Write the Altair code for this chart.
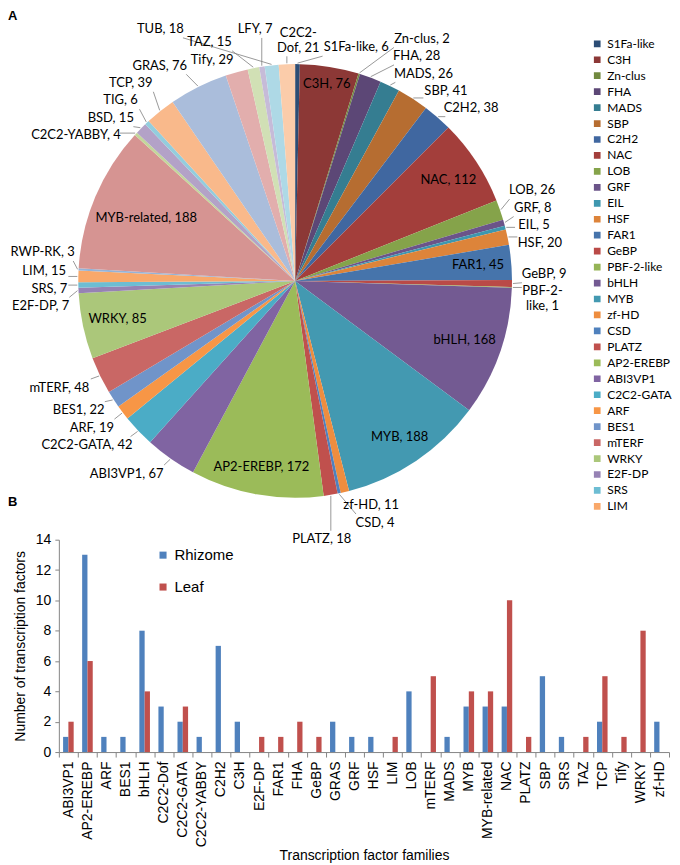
import math
import numpy as np
import pandas as pd
import altair as alt

# ---------------- Panel A data (pie) ----------------
families = ["S1Fa-like", "C3H", "Zn-clus", "FHA", "MADS", "SBP", "C2H2", "NAC", "LOB", "GRF",
            "EIL", "HSF", "FAR1", "GeBP", "PBF-2-like", "bHLH", "MYB", "zf-HD", "CSD", "PLATZ",
            "AP2-EREBP", "ABI3VP1", "C2C2-GATA", "ARF", "BES1", "mTERF", "WRKY", "E2F-DP", "SRS", "LIM",
            "RWP-RK", "MYB-related", "C2C2-YABBY", "BSD", "TIG", "TCP", "GRAS", "Tify", "TAZ", "LFY",
            "TUB", "C2C2-Dof"]
counts = [6, 76, 2, 28, 26, 41, 38, 112, 26, 8,
          5, 20, 45, 9, 1, 168, 188, 11, 4, 18,
          172, 67, 42, 19, 22, 48, 85, 7, 7, 15,
          3, 188, 4, 15, 6, 39, 76, 29, 15, 7,
          18, 21]
pie_colors = ["#2C4D75", "#8C3836", "#71893F", "#5C4776", "#357D91", "#B66D31", "#4067A0", "#A33E3B", "#85A34A", "#6B5489",
              "#3E97AF", "#DD843A", "#4674AB", "#BA4A47", "#95B456", "#735A92", "#4399B1", "#EE8D3F", "#4F81BD", "#C0504D",
              "#9BBB59", "#8064A2", "#4BACC6", "#F79646", "#7094C9", "#C96765", "#ABC77A", "#9682B4", "#6DBDD3", "#F9A86A",
              "#95B3D7", "#D69492", "#C3D69B", "#B3A2C7", "#93CDDD", "#F9B98B", "#AABDDB", "#E2AEAD", "#D1E0B5", "#C6BBD8",
              "#AED9E6", "#FBCCAA"]
inside_labels = ["C3H", "NAC", "FAR1", "bHLH", "MYB", "AP2-EREBP", "WRKY", "MYB-related"]
wrapped_names = {"C2C2-Dof": "C2C2-\nDof", "PBF-2-like": "PBF-2-\nlike"}
legend_shown = families[:30]

# ---------------- Panel B data (bars) ----------------
bar_families = ["ABI3VP1", "AP2-EREBP", "ARF", "BES1", "bHLH", "C2C2-Dof", "C2C2-GATA", "C2C2-YABBY",
                "C2H2", "C3H", "E2F-DP", "FAR1", "FHA", "GeBP", "GRAS", "GRF", "HSF", "LIM", "LOB",
                "mTERF", "MADS", "MYB", "MYB-related", "NAC", "PLATZ", "SBP", "SRS", "TAZ", "TCP",
                "Tify", "WRKY", "zf-HD"]
rhizome = [1, 13, 1, 1, 8, 3, 2, 1, 7, 2, 0, 0, 0, 0, 2, 1, 1, 0, 4, 0, 1, 3, 3, 3, 0, 5, 1, 0, 2, 0, 0, 2]
leaf = [2, 6, 0, 0, 4, 0, 3, 0, 0, 0, 1, 1, 2, 1, 0, 0, 0, 1, 0, 5, 0, 4, 4, 10, 1, 0, 0, 1, 5, 1, 8, 0]
tissues = ["Rhizome", "Leaf"]
bar_colors = ["#4F81BD", "#C0504D"]

# ---------------- layout constants ----------------
W = 612          # plot width of both panels
H_PIE = 500      # plot height of panel A
H_BAR = 213      # plot height of panel B
CX, CY = 237.0, 245.5   # pie centre inside panel A (px from plot left / top)
R = 217.5        # pie radius (px)
D = 8            # gap between pie edge and outside labels
FS = 13          # label font size
LINE_H = 14.5
XMIN = -(CX + 49)          # label limits, relative to the pie centre
XMAX = 535 - CX
YTOP = CY + 16
YBOT = -(H_PIE - CY) - 14

# ---------------- label layout (computed from data) ----------------
vals = np.array(counts, dtype=float)
total = vals.sum()
starts = np.concatenate([[0.0], np.cumsum(vals)[:-1]])
mids = (starts + vals / 2) / total * 2 * np.pi


def text_width(s):
    w = 0.0
    for ch in s:
        if ch in "il.,:;|!'":
            w += 0.24
        elif ch in "fjrt-()":
            w += 0.34
        elif ch == " ":
            w += 0.19
        elif ch in "MW":
            w += 0.85
        elif ch in "mw":
            w += 0.78
        elif ch.isdigit():
            w += 0.55
        elif ch.isupper():
            w += 0.6
        else:
            w += 0.5
    return w * FS


labels = [f"{wrapped_names.get(n, n)}, {v}" for n, v in zip(families, counts)]
lines_of = [lab.split("\n") for lab in labels]
n_lines = np.array([len(l) for l in lines_of])
half_w = np.array([max(text_width(l) for l in ls) / 2 + 3 for ls in lines_of])
half_h = LINE_H * n_lines / 2 + 1.5

rows_text, rows_lead = [], []


def emit(i, cx, cy):
    ls = lines_of[i]
    for j, line in enumerate(ls):
        rows_text.append({"lx": cx, "ly": cy + (len(ls) - 1) * LINE_H / 2 - j * LINE_H,
                          "label": line})


# inside labels: pull inward until the text box fits in the disc
for i, n in enumerate(families):
    if n not in inside_labels:
        continue
    r = 0.92 * R
    while r > 0.3 * R:
        cx, cy = r * math.sin(mids[i]), r * math.cos(mids[i])
        ok = all(math.hypot(cx + sx * half_w[i], cy + sy * half_h[i]) <= 0.985 * R
                 for sx in (-1, 1) for sy in (-1, 1))
        if ok:
            break
        r -= 2
    emit(i, cx, cy)

# outside labels: start just outside their slice, then relax overlaps in 2-D
out_idx = [i for i, n in enumerate(families) if n not in inside_labels]
th = mids[out_idx].copy()
a = half_w[out_idx]
b = half_h[out_idx]
n_out = len(out_idx)
S = np.sign(((th[None, :] - th[:, None] + np.pi) % (2 * np.pi)) - np.pi)  # +1 if j after i

px = (R + D) * np.sin(th)
py = (R + D) * np.cos(th)
pref_x = px + a * np.clip(2.5 * np.sin(th), -1, 1)
pref_y = py + b * np.clip(2.5 * np.cos(th), -1, 1)
cx, cy = pref_x.copy(), pref_y.copy()
eye = np.eye(n_out, dtype=bool)
tang_x = np.cos(th)
tang_y = -np.sin(th)

for it in range(4000):
    dx = cx[:, None] - cx[None, :]
    dy = cy[:, None] - cy[None, :]
    ox = (a[:, None] + a[None, :]) - np.abs(dx)
    oy = (b[:, None] + b[None, :]) - np.abs(dy)
    ov = (ox > 0) & (oy > 0) & ~eye
    sx = np.where(np.abs(dx) > 1e-6, np.sign(dx), -S * np.sign(tang_x)[:, None])
    sy = np.where(np.abs(dy) > 1e-6, np.sign(dy), -S * np.sign(tang_y)[:, None])
    at_edge = (cy + b >= YTOP - 0.5) | (cy - b <= YBOT + 0.5)
    horiz = (ox < oy) | at_edge[:, None] | at_edge[None, :]
    mx = np.where(ov & horiz, ox * sx, 0.0).sum(axis=1)
    my = np.where(ov & ~horiz, oy * sy, 0.0).sum(axis=1)
    cx += 0.2 * mx
    cy += 0.2 * my
    if it < 3500:
        cx += 0.01 * (pref_x - cx)
        cy += 0.01 * (pref_y - cy)
    # keep labels off the pie
    qx = np.clip(0.0, cx - a, cx + a)
    qy = np.clip(0.0, cy - b, cy + b)
    dist = np.hypot(qx, qy)
    inside = dist < R + 4
    ux = np.where(dist > 1e-6, qx / np.maximum(dist, 1e-6), np.sin(th))
    uy = np.where(dist > 1e-6, qy / np.maximum(dist, 1e-6), np.cos(th))
    cx = np.where(inside, cx + ux * (R + 4 - dist), cx)
    cy = np.where(inside, cy + uy * (R + 4 - dist), cy)
    # keep labels within the panel
    cx = np.clip(cx, XMIN + a, XMAX - a)
    cy = np.clip(cy, YBOT + b, YTOP - b)

for k, i in enumerate(out_idx):
    emit(i, cx[k], cy[k])
    ax_, ay_ = (R + 1) * math.sin(th[k]), (R + 1) * math.cos(th[k])
    qx_ = min(max(ax_, cx[k] - a[k] + 2), cx[k] + a[k] - 2)
    qy_ = min(max(ay_, cy[k] - b[k]), cy[k] + b[k])
    if math.hypot(qx_ - ax_, qy_ - ay_) > 4:
        rows_lead.append({"x": ax_, "y": ay_, "x2": qx_, "y2": qy_})

pie_df = pd.DataFrame({"family": families, "count": counts, "idx": range(len(families)),
                       "cx": 0.0, "cy": 0.0})
text_df = pd.DataFrame(rows_text)
lead_df = pd.DataFrame(rows_lead)

xs = alt.Scale(domain=[-CX, W - CX], nice=False, zero=False)
ys = alt.Scale(domain=[-(H_PIE - CY), CY], nice=False, zero=False)

arcs = alt.Chart(pie_df).mark_arc(radius=R, stroke=None).encode(
    x=alt.X("cx:Q", scale=xs, axis=None),
    y=alt.Y("cy:Q", scale=ys, axis=None),
    theta=alt.Theta("count:Q", stack=True),
    order=alt.Order("idx:Q"),
    color=alt.Color("family:N",
                    scale=alt.Scale(domain=families, range=pie_colors),
                    legend=alt.Legend(values=legend_shown, title=None, orient="none",
                                      legendX=534, legendY=0, symbolType="square",
                                      symbolSize=45, symbolStrokeWidth=0,
                                      labelFont="Lato", labelFontSize=12, labelColor="#000000",
                                      labelOffset=4, rowPadding=0, clipHeight=15.2, padding=0)),
)

leaders = alt.Chart(lead_df).mark_rule(color="#7F7F7F", strokeWidth=0.8).encode(
    x=alt.X("x:Q", scale=xs, axis=None), y=alt.Y("y:Q", scale=ys, axis=None),
    x2="x2:Q", y2="y2:Q")

texts = alt.Chart(text_df).mark_text(font="Lato", fontSize=FS, align="center",
                                     baseline="middle", color="#000000").encode(
    x=alt.X("lx:Q", scale=xs, axis=None), y=alt.Y("ly:Q", scale=ys, axis=None), text="label:N")

pie = alt.layer(arcs, leaders, texts).properties(
    width=W, height=H_PIE,
    title=alt.Title("A", anchor="start", frame="group", dx=-51, offset=0, fontSize=13,
                    fontWeight="bold", font="Liberation Sans", color="#000000"))

# ---------------- Panel B chart ----------------
bar_rows = []
for f, r_, l_ in zip(bar_families, rhizome, leaf):
    bar_rows.append({"family": f, "tissue": "Rhizome", "n": r_})
    bar_rows.append({"family": f, "tissue": "Leaf", "n": l_})
bar_df = pd.DataFrame(bar_rows)

axis_gray = "#868686"
bars = alt.Chart(bar_df).mark_bar().encode(
    x=alt.X("family:N", sort=bar_families,
            scale=alt.Scale(paddingInner=0, paddingOuter=0),
            axis=alt.Axis(title="Transcription factor families", labelAngle=-90,
                          tickBand="extent", tickSize=5, labelPadding=4,
                          domainColor=axis_gray, tickColor=axis_gray,
                          labelFont="Liberation Sans", labelFontSize=14, labelColor="#000000",
                          titleFont="Liberation Sans", titleFontSize=14, titleFontWeight="normal",
                          titleColor="#000000", titlePadding=2)),
    xOffset=alt.XOffset("tissue:N", sort=tissues,
                        scale=alt.Scale(paddingInner=0, paddingOuter=0.8)),
    y=alt.Y("n:Q", scale=alt.Scale(domain=[0, 14], nice=False),
            axis=alt.Axis(title="Number of transcription factors", values=list(range(0, 15, 2)),
                          grid=False, tickSize=4, labelPadding=4,
                          domainColor=axis_gray, tickColor=axis_gray,
                          labelFont="Liberation Sans", labelFontSize=14, labelColor="#000000",
                          titleFont="Liberation Sans", titleFontSize=14, titleFontWeight="normal",
                          titleColor="#000000", titlePadding=8)),
    color=alt.Color("tissue:N", sort=tissues,
                    scale=alt.Scale(domain=tissues, range=bar_colors),
                    legend=alt.Legend(title=None, orient="none", legendX=97, legendY=8,
                                      symbolType="square", symbolSize=50, symbolStrokeWidth=0,
                                      labelFont="Liberation Sans", labelFontSize=15,
                                      labelColor="#000000", rowPadding=16, labelOffset=4,
                                      padding=0)),
).properties(width=W, height=H_BAR,
             title=alt.Title("B", anchor="start", frame="group", dx=-51, offset=24, fontSize=13,
                             fontWeight="bold", font="Liberation Sans", color="#000000"))

chart = alt.vconcat(pie, bars, spacing=5, bounds="flush").resolve_scale(
    color="independent", x="independent", y="independent"
).resolve_legend(color="independent").properties(
    padding={"left": 0, "top": 0, "right": 0, "bottom": 0}
).configure_view(stroke=None)

chart.save("out.html", embed_options={"renderer": "svg", "actions": False})
